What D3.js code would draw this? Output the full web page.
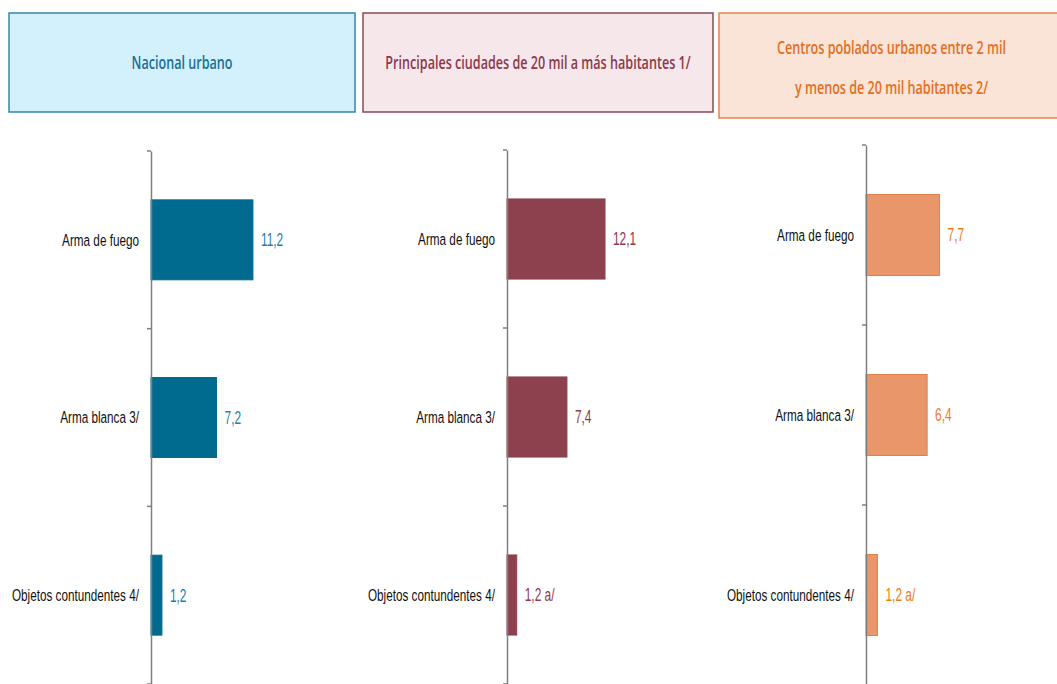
<!DOCTYPE html>
<html>
<head>
<meta charset="utf-8">
<script src="https://cdn.jsdelivr.net/npm/d3@7"></script>
<style>
  html, body { margin: 0; padding: 0; background: #fff; }
  svg { display: block; }
</style>
</head>
<body>
<svg id="chart" width="1057" height="684"></svg>
<script>
// ---- data ----
const categories = ["Arma de fuego", "Arma blanca 3/", "Objetos contundentes 4/"];
const panelTitles = [
  ["Nacional urbano"],
  ["Principales ciudades de 20 mil a más habitantes 1/"],
  ["Centros poblados urbanos entre 2 mil", "y menos de 20 mil habitantes 2/"]
];
const nacionalUrbano = [11.2, 7.2, 1.2];
const principalesCiudades = [12.1, 7.4, 1.2];
const centrosPoblados = [7.7, 6.4, 1.2];
const valueLabels = [
  ["11,2", "7,2", "1,2"],
  ["12,1", "7,4", "1,2 a/"],
  ["7,7", "6,4", "1,2 a/"]
];
const seriesValues = [nacionalUrbano, principalesCiudades, centrosPoblados];

// ---- styling / layout ----
const panels = [
  { box: [9, 13, 346, 99], fill: "#d3f1fc", stroke: "#3385ab", text: "#1b6f97",
    axisX: 151, yRange: [151, 684], xRange: 182, bar: "#006a8f", barStroke: "#006a8f", label: "#1f7fae",
    titleY: [62] },
  { box: [363, 13, 350, 99], fill: "#f6e7eb", stroke: "#8c4a57", text: "#8b3a4c",
    axisX: 507, yRange: [150, 684], xRange: 162, bar: "#8d414f", barStroke: "#8d414f", label: "#8e3a4e",
    titleY: [62] },
  { box: [719, 13, 345, 105], fill: "#fae3d7", stroke: "#e8834a", text: "#e2701f",
    axisX: 866, yRange: [145, 685], xRange: 191, bar: "#e9966a", barStroke: "#e0804d", label: "#ec7a22",
    titleY: [47, 87] }
];

const svg = d3.select("#chart");

panels.forEach((p, i) => {
  const g = svg.append("g");
  // header box
  g.append("rect")
    .attr("x", p.box[0]).attr("y", p.box[1])
    .attr("width", p.box[2]).attr("height", p.box[3])
    .attr("fill", p.fill).attr("stroke", p.stroke).attr("stroke-width", 1.5);
  const cx = p.box[0] + p.box[2] / 2;
  panelTitles[i].forEach((line, j) => {
    g.append("g").attr("transform", `translate(${cx},${p.titleY[j]}) scale(0.70,1)`)
      .append("text")
      .attr("text-anchor", "middle").attr("dominant-baseline", "central")
      .attr("font-family", "Open Sans, sans-serif").attr("font-weight", 600)
      .attr("font-size", 18).attr("fill", p.text)
      .text(line);
  });

  // scales
  const y = d3.scaleBand().domain(categories).range(p.yRange).paddingInner(0.55).paddingOuter(0.275);
  const x = d3.scaleLinear().domain([0, 20]).range([p.axisX, p.axisX + p.xRange]);

  // bars
  g.selectAll("rect.bar").data(seriesValues[i]).join("rect")
    .attr("class", "bar")
    .attr("x", x(0))
    .attr("y", (d, k) => y(categories[k]))
    .attr("width", d => x(d) - x(0))
    .attr("height", y.bandwidth())
    .attr("fill", p.bar).attr("stroke", p.barStroke).attr("stroke-width", 1);

  // value labels
  g.selectAll("g.val").data(seriesValues[i]).join("g")
    .attr("class", "val")
    .attr("transform", (d, k) => `translate(${x(d) + 8},${y(categories[k]) + y.bandwidth() / 2}) scale(0.68,1)`)
    .append("text")
    .attr("dominant-baseline", "central")
    .attr("font-family", "Liberation Sans, Arial, sans-serif")
    .attr("font-size", 17.5).attr("fill", p.label)
    .text((d, k) => valueLabels[i][k]);

  // axis
  const axis = d3.axisLeft(y).tickSize(0).tickPadding(0);
  const ag = g.append("g").attr("transform", `translate(${p.axisX},0)`).call(axis);
  ag.select(".domain").attr("stroke", "#7f7f7f").attr("stroke-width", 1.5);
  ag.selectAll(".tick text").remove();
  // boundary ticks
  const bounds = d3.range(categories.length + 1).map(k => p.yRange[0] + k * (p.yRange[1] - p.yRange[0]) / categories.length);
  ag.selectAll("line.bt").data(bounds).join("line")
    .attr("class", "bt")
    .attr("x1", -4).attr("x2", 0).attr("y1", d => d).attr("y2", d => d)
    .attr("stroke", "#7f7f7f").attr("stroke-width", 1.5);

  // category labels
  g.selectAll("g.cat").data(categories).join("g")
    .attr("class", "cat")
    .attr("transform", d => `translate(${p.axisX - 12},${y(d) + y.bandwidth() / 2}) scale(0.69,1)`)
    .append("text")
    .attr("text-anchor", "end").attr("dominant-baseline", "central")
    .attr("font-family", "Liberation Sans, Arial, sans-serif")
    .attr("font-size", 17).attr("fill", "#111")
    .text(d => d);
});
</script>
</body>
</html>
